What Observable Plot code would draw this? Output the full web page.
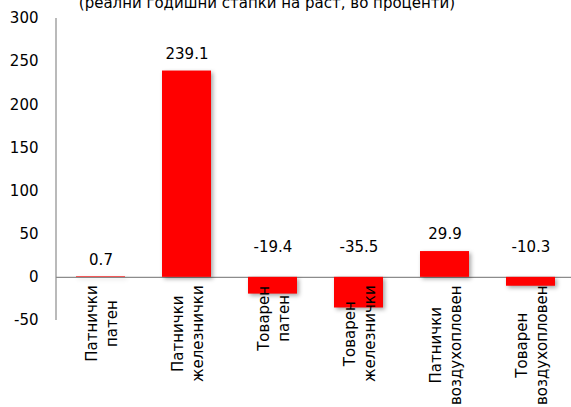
<!DOCTYPE html>
<html>
<head>
<meta charset="utf-8">
<script src="https://cdn.jsdelivr.net/npm/d3@7"></script>
<script src="https://cdn.jsdelivr.net/npm/@observablehq/plot@0.6"></script>
<style>
  html, body { margin: 0; padding: 0; background: #fff; }
  #wrap { position: relative; width: 571px; height: 407px; overflow: hidden; background: #fff; }
  #chart { position: absolute; left: 0; top: 0; }
  #title {
    position: absolute; left: 0; top: -4px; width: 534px;
    text-align: center; font: 15px/15px "DejaVu Sans", sans-serif; color: #000;
  }
</style>
</head>
<body>
<div id="wrap">
  <div id="chart"></div>
  <div id="title">(реални годишни стапки на раст, во проценти)</div>
</div>
<script>
// Transport categories (two-line labels) and real annual growth rates, %
const categories = [
  "Патнички\nпатен",
  "Патнички\nжелезнички",
  "Товарен\nпатен",
  "Товарен\nжелезнички",
  "Патнички\nвоздухопловен",
  "Товарен\nвоздухопловен"
];
const values = [0.7, 239.1, -19.4, -35.5, 29.9, -10.3];
const yTicks = [-50, 0, 50, 100, 150, 200, 250, 300];

const data = categories.map((c, i) => ({category: c, value: values[i]}));
const font = "DejaVu Sans, sans-serif";

const chart = Plot.plot({
  width: 571,
  height: 407,
  marginLeft: 56,
  marginTop: 18,
  marginBottom: 87,
  marginRight: 0,
  style: {fontFamily: font, fontSize: "15px", color: "#000", background: "transparent"},
  x: {domain: categories, range: [56, 576], paddingInner: 0.43, paddingOuter: 0.215, axis: null},
  y: {domain: [-50, 300], ticks: yTicks, tickFormat: d => String(d)},
  marks: [
    Plot.axisY({ticks: yTicks, tickSize: 0, tickPadding: 18, fontSize: 15, label: null, tickFormat: d => String(d)}),
    Plot.ruleY([0], {stroke: "#8c8c8c", strokeWidth: 1.2, className: "base"}),
    Plot.barY(data, {x: "category", y: "value", fill: "#ff0000", className: "bars"}),
    Plot.text(data, {
      x: "category",
      y: d => Math.max(d.value, 0),
      text: d => d.value.toFixed(1),
      textAnchor: "middle",
      fontSize: 15,
      fill: "#000",
      className: "vals"
    }),
    Plot.text(data, {
      x: "category",
      y: 0,
      text: "category",
      rotate: -90,
      textAnchor: "middle",
      lineAnchor: "middle",
      lineHeight: 1.33,
      fontSize: 15,
      fill: "#000",
      className: "cats"
    })
  ]
});

document.getElementById("chart").appendChild(chart);

// Baseline spans the full width
chart.querySelectorAll("g.base line").forEach(l => { l.setAttribute("x1", 56); l.setAttribute("x2", 571); });

// Value axis line along the left edge of the frame, from the lowest to the highest tick
const y = chart.scale("y");
d3.select(chart).insert("line", "g.bars")
  .attr("x1", 56).attr("x2", 56)
  .attr("y1", y.apply(d3.max(yTicks))).attr("y2", y.apply(d3.min(yTicks)))
  .attr("stroke", "#8c8c8c").attr("stroke-width", 1.2);

// Soft shadow under the bars
const bars = chart.querySelector("g.bars");
if (bars) bars.style.filter = "drop-shadow(2px 2px 2px rgba(0,0,0,0.35))";

// Value labels: above the bar for gains, above the baseline for losses
chart.querySelectorAll("g.vals text").forEach((t, i) => {
  const shift = values[i] >= 0 ? -17 : -30;
  t.setAttribute("dy", shift);
});

// Category labels: rotated blocks hanging from just below the baseline, lines centred
chart.querySelectorAll("g.cats text").forEach(t => {
  const bb = t.getBBox();
  const m = /translate\(([-\d.]+),([-\d.]+)\)/.exec(t.getAttribute("transform"));
  const x = +m[1], y0 = +m[2];
  const top = y0 + 8;
  t.setAttribute("transform", `translate(${x},${top + bb.width / 2}) rotate(-90)`);
});
</script>
</body>
</html>
